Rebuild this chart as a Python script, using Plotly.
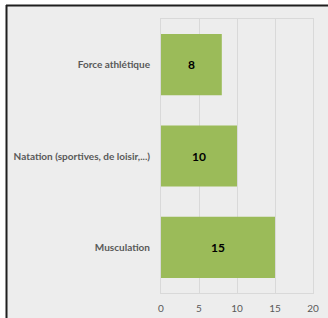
import plotly.graph_objects as go

categories = ["Musculation", "Natation (sportives, de loisir,...)", "Force athlétique"]
values = [15, 10, 8]
x_ticks = [0, 5, 10, 15, 20]

W, H = 328, 318
L, R, T, B = 161, 15, 19, 25
pw, ph = W - L - R, H - T - B

def px(x):
    return (x - L) / pw

def py(y):
    return (H - B - y) / ph

FONT = "Lato, Open Sans, Liberation Sans, sans-serif"

fig = go.Figure(go.Bar(
    x=values, y=categories, orientation="h",
    marker=dict(color="#9BBB59", line=dict(width=0)),
    text=[str(v) for v in values], textposition="inside", insidetextanchor="middle",
    textfont=dict(family=FONT, size=12, color="#000000", weight="bold"),
    cliponaxis=False,
))

shapes = [
    dict(type="rect", xref="paper", yref="paper", x0=px(-20), x1=px(6), y0=py(H + 20), y1=py(-20),
         fillcolor="white", line=dict(width=0), layer="below"),
    dict(type="rect", xref="paper", yref="paper", x0=px(-20), x1=px(W + 20), y0=py(5), y1=py(-20),
         fillcolor="white", line=dict(width=0), layer="below"),
    dict(type="line", xref="paper", yref="paper", x0=px(6), x1=px(W + 20), y0=py(5.5), y1=py(5.5),
         line=dict(color="#1f1f1f", width=2), layer="above"),
    dict(type="line", xref="paper", yref="paper", x0=px(6.5), x1=px(6.5), y0=py(5), y1=py(H + 20),
         line=dict(color="#1f1f1f", width=2), layer="above"),
]

fig.update_layout(
    template="none",
    width=W, height=H,
    margin=dict(l=L, r=R, t=T, b=B, pad=0, autoexpand=False),
    paper_bgcolor="#EDEDED", plot_bgcolor="#EDEDED",
    bargap=0.33,
    showlegend=False,
    shapes=shapes,
    font=dict(family=FONT, color="#595959"),
    xaxis=dict(range=[0, 20], tickvals=x_ticks, showgrid=True, gridcolor="#D9D9D9", gridwidth=1,
               zeroline=False, showline=True, linecolor="#D9D9D9", linewidth=1, mirror=True,
               automargin=False,
               tickfont=dict(family=FONT, size=10, color="#595959"), ticks="", ticklabelstandoff=6),
    yaxis=dict(showgrid=False, zeroline=False, showline=True, linecolor="#D9D9D9", linewidth=1,
               mirror=True, ticks="", ticklabelstandoff=8, automargin=False,
               tickfont=dict(family=FONT, size=10, color="#595959", weight="bold")),
)

fig.write_html("out.html", config={"displayModeBar": False},
               post_script="document.body.style.margin='0';document.body.style.overflow='hidden';")
